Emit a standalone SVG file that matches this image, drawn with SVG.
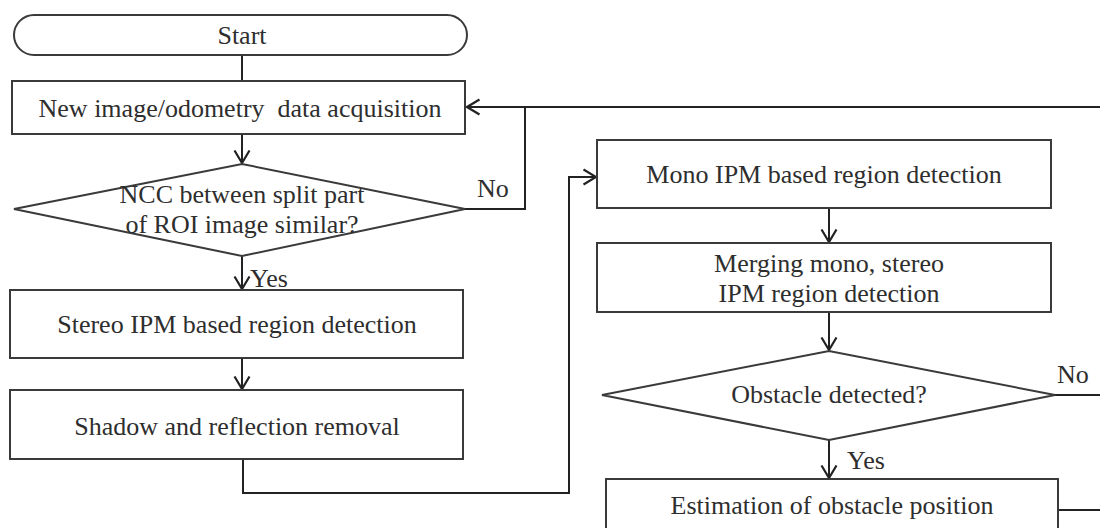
<svg xmlns="http://www.w3.org/2000/svg" width="1100" height="528" viewBox="0 0 1100 528">
  <style>
    .box { fill: #ffffff; stroke: #3a3a3a; stroke-width: 2; }
    .lbl { font-family: "Liberation Serif", "Times New Roman", serif; font-size: 26px; fill: #2e2e2e; text-anchor: middle; }
    .tag { font-family: "Liberation Serif", "Times New Roman", serif; font-size: 26px; fill: #2e2e2e; }
    .wire { fill: none; stroke: #222222; stroke-width: 2; }
  </style>
  <defs>
    <marker id="arrow" viewBox="0 0 15 18" refX="13.5" refY="9" markerWidth="15" markerHeight="18" markerUnits="userSpaceOnUse" orient="auto">
      <path d="M1,1.5 L13.5,9 L1,16.5" fill="none" stroke="#222222" stroke-width="2.2"/>
    </marker>
  </defs>

  <rect width="1100" height="528" fill="#ffffff"/>

  <!-- connectors -->
  <g id="connectors">
    <path class="wire" d="M242,55 V81"/>
    <path class="wire" d="M242,134 V163" marker-end="url(#arrow)"/>
    <path class="wire" d="M242,256 V289" marker-end="url(#arrow)"/>
    <path class="wire" d="M242,358 V389" marker-end="url(#arrow)"/>
    <!-- No branch loops back to acquisition -->
    <path class="wire" d="M465,209 H525 V107"/>
    <path class="wire" d="M1100,107 H467" marker-end="url(#arrow)"/>
    <!-- stereo branch feeds mono detection -->
    <path class="wire" d="M243,459 V493 H569 V177 H596" marker-end="url(#arrow)"/>
    <path class="wire" d="M829,208 V242" marker-end="url(#arrow)"/>
    <path class="wire" d="M829,312 V350" marker-end="url(#arrow)"/>
    <path class="wire" d="M829,440 V478" marker-end="url(#arrow)"/>
    <path class="wire" d="M1055,395 H1100"/>
    <path class="wire" d="M1058,510 H1100"/>
  </g>

  <g id="start">
    <rect class="box" x="14" y="15" width="453" height="40" rx="20" ry="20"/>
    <text class="lbl" x="242" y="44">Start</text>
  </g>

  <g id="acquisition">
    <rect class="box" x="12" y="81" width="453" height="53"/>
    <text class="lbl" x="240" y="117" xml:space="preserve">New image/odometry  data acquisition</text>
  </g>

  <g id="ncc-check">
    <polygon class="box" points="14,209 242,164 465,209 242,256"/>
    <text class="lbl" x="242" y="203">NCC between split part</text>
    <text class="lbl" x="242" y="233">of ROI image similar?</text>
    <text class="tag" x="477" y="197">No</text>
    <text class="tag" x="250" y="287">Yes</text>
  </g>

  <g id="stereo-ipm">
    <rect class="box" x="10" y="290" width="453" height="68"/>
    <text class="lbl" x="237" y="333">Stereo IPM based region detection</text>
  </g>

  <g id="shadow-removal">
    <rect class="box" x="10" y="390" width="453" height="69"/>
    <text class="lbl" x="237" y="435">Shadow and reflection removal</text>
  </g>

  <g id="mono-ipm">
    <rect class="box" x="597" y="140" width="454" height="68"/>
    <text class="lbl" x="824" y="183">Mono IPM based region detection</text>
  </g>

  <g id="merging">
    <rect class="box" x="597" y="243" width="454" height="69"/>
    <text class="lbl" x="829" y="272">Merging mono, stereo</text>
    <text class="lbl" x="829" y="302">IPM region detection</text>
  </g>

  <g id="obstacle-check">
    <polygon class="box" points="602,395 829,351 1055,395 829,440"/>
    <text class="lbl" x="829" y="403">Obstacle detected?</text>
    <text class="tag" x="1057" y="383">No</text>
    <text class="tag" x="847" y="469">Yes</text>
  </g>

  <g id="estimation">
    <rect class="box" x="606" y="479" width="452" height="62"/>
    <text class="lbl" x="832" y="514">Estimation of obstacle position</text>
  </g>
</svg>
